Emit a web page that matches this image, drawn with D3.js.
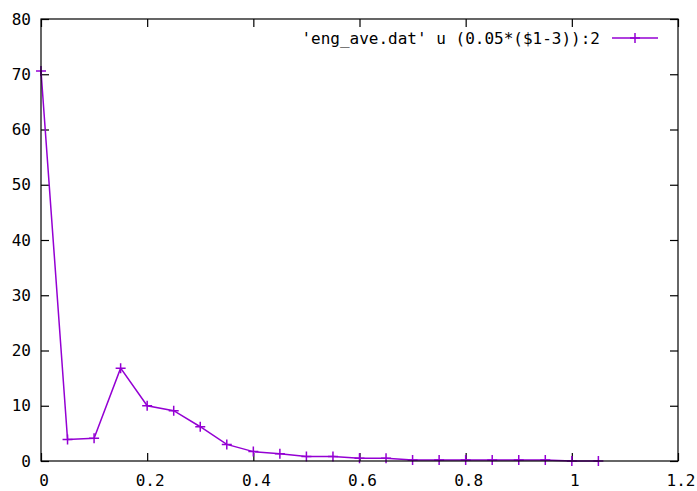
<!DOCTYPE html>
<html>
<head>
<meta charset="utf-8">
<script src="https://cdn.jsdelivr.net/npm/d3@7"></script>
<style>
  body { margin: 0; background: #fff; }
  svg text { font-family: "DejaVu Sans Mono", "Liberation Mono", monospace; font-size: 16px; fill: #000; }
</style>
</head>
<body>
<div id="chart"></div>
<script>
// x = 0.05*($1-3), column 2 of eng_ave.dat
var xs = [0, 0.05, 0.1, 0.15, 0.2, 0.25, 0.3, 0.35, 0.4, 0.45, 0.5,
          0.55, 0.6, 0.65, 0.7, 0.75, 0.8, 0.85, 0.9, 0.95, 1.0, 1.05];
var ys = [70.6, 3.9, 4.1, 16.8, 10.0, 9.1, 6.2, 3.0, 1.7, 1.3, 0.8,
          0.8, 0.5, 0.5, 0.2, 0.2, 0.2, 0.2, 0.2, 0.2, 0, 0];
var xTicks = [0, 0.2, 0.4, 0.6, 0.8, 1, 1.2];
var yTicks = [0, 10, 20, 30, 40, 50, 60, 70, 80];
var legendLabel = "'eng_ave.dat' u (0.05*($1-3)):2";

var W = 697, H = 491;
var margin = {left: 41, right: 19, top: 19, bottom: 30};
var width = W - margin.left - margin.right,
    height = H - margin.top - margin.bottom;
var purple = "#9400d3";
var tick = 8;

var svg = d3.select("#chart").append("svg")
    .attr("width", W).attr("height", H);

var x = d3.scaleLinear().domain([0, 1.2]).range([margin.left, margin.left + width]);
var y = d3.scaleLinear().domain([0, 80]).range([margin.top + height, margin.top]);

var g = svg.append("g");

// inward ticks on all four sides (gnuplot style)
g.append("g")
  .attr("transform", "translate(0," + y(0) + ")")
  .call(d3.axisBottom(x).tickValues(xTicks).tickSize(-tick).tickFormat(""))
  .call(function(a){ a.select(".domain").remove(); });
g.append("g")
  .attr("transform", "translate(0," + y(80) + ")")
  .call(d3.axisTop(x).tickValues(xTicks).tickSize(-tick).tickFormat(""))
  .call(function(a){ a.select(".domain").remove(); });
g.append("g")
  .attr("transform", "translate(" + x(0) + ",0)")
  .call(d3.axisLeft(y).tickValues(yTicks).tickSize(-tick).tickFormat(""))
  .call(function(a){ a.select(".domain").remove(); });
g.append("g")
  .attr("transform", "translate(" + x(1.2) + ",0)")
  .call(d3.axisRight(y).tickValues(yTicks).tickSize(-tick).tickFormat(""))
  .call(function(a){ a.select(".domain").remove(); });
g.selectAll(".tick line").attr("stroke", "#000").attr("stroke-width", 1.2);

// tick labels
svg.append("g").selectAll("text").data(yTicks).enter().append("text")
  .attr("x", x(0) - 10).attr("y", function(d){ return y(d); })
  .attr("text-anchor", "end").attr("dominant-baseline", "central")
  .text(function(d){ return d; });
svg.append("g").selectAll("text").data(xTicks).enter().append("text")
  .attr("x", function(d){ return x(d) + 3; }).attr("y", y(0) + 25)
  .attr("text-anchor", "middle")
  .text(function(d){ return d; });

// data line
var pts = xs.map(function(v, i){ return [v, ys[i]]; });
svg.append("path").datum(pts)
  .attr("fill", "none").attr("stroke", purple).attr("stroke-width", 1.5)
  .attr("d", d3.line().x(function(d){ return x(d[0]); }).y(function(d){ return y(d[1]); }));

// '+' markers
var ms = 5;
svg.append("g").selectAll("path").data(pts).enter().append("path")
  .attr("stroke", purple).attr("stroke-width", 1.5).attr("fill", "none")
  .attr("d", function(d){
    var cx = x(d[0]), cy = y(d[1]);
    return "M" + (cx - ms) + "," + cy + "H" + (cx + ms) + "M" + cx + "," + (cy - ms) + "V" + (cy + ms);
  });

// border
svg.append("rect")
  .attr("x", x(0)).attr("y", y(80))
  .attr("width", x(1.2) - x(0)).attr("height", y(0) - y(80))
  .attr("fill", "none").attr("stroke", "#000").attr("stroke-width", 1.2);

// legend
var ly = 38;
svg.append("text").attr("x", 600).attr("y", ly)
  .attr("text-anchor", "end").attr("dominant-baseline", "central")
  .text(legendLabel);
svg.append("line").attr("x1", 612).attr("x2", 658).attr("y1", ly).attr("y2", ly)
  .attr("stroke", purple).attr("stroke-width", 1.5);
svg.append("path").attr("stroke", purple).attr("stroke-width", 1.5)
  .attr("d", "M" + (635 - ms) + "," + ly + "H" + (635 + ms) + "M635," + (ly - ms) + "V" + (ly + ms));
</script>
</body>
</html>
